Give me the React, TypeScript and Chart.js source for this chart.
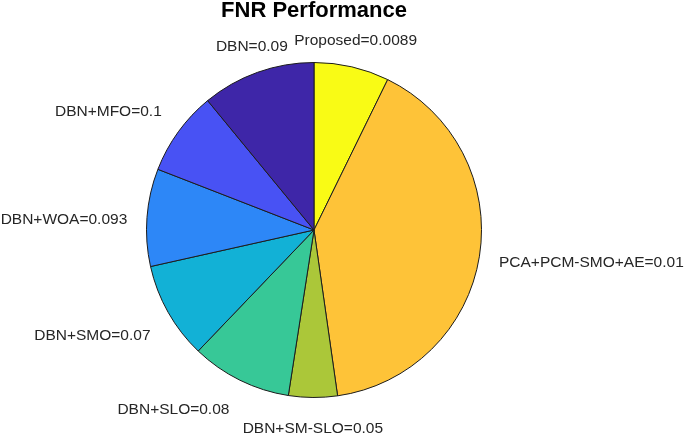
import React, { useEffect, useRef } from "react";
import { Chart, registerables } from "chart.js";

Chart.register(...registerables);

// Slices listed clockwise from 12 o'clock
const categories = [
  "Proposed",
  "PCA+PCM-SMO+AE",
  "DBN+SM-SLO",
  "DBN+SLO",
  "DBN+SMO",
  "DBN+WOA",
  "DBN+MFO",
  "DBN",
];
// Displayed FNR values (text of the labels)
const fnrValues = ["0.0089", "0.01", "0.05", "0.08", "0.07", "0.093", "0.1", "0.09"];
// Slice sizes (share of the circle, %)
const sliceShares = [7.25, 40.5, 4.7, 9.7, 9.35, 9.4, 8.15, 10.95];
const sliceColors = [
  "#f9fb15",
  "#fec338",
  "#abc739",
  "#37c897",
  "#12b1d6",
  "#2d87f7",
  "#4852f4",
  "#3e26a8",
];

const labelFont = '15.5px "Liberation Sans", Arial, Helvetica, sans-serif';

const outsideLabels = {
  id: "outsideLabels",
  afterDatasetsDraw(chart: any) {
    const meta = chart.getDatasetMeta(0);
    const ctx = chart.ctx;
    ctx.save();
    ctx.font = labelFont;
    ctx.fillStyle = "#262626";
    meta.data.forEach((arc: any, i: number) => {
      const p = arc.getProps(["x", "y", "startAngle", "endAngle", "outerRadius"], true);
      const a = (p.startAngle + p.endAngle) / 2;
      const r = p.outerRadius * 1.1;
      const c = Math.cos(a);
      const s = Math.sin(a);
      let px = p.x + c * r;
      let py = p.y + s * r;
      let align: CanvasTextAlign = "center";
      if (c > 0.4) {
        align = "left";
        px += 3;
      } else if (c < -0.4) {
        align = "right";
        px -= 3;
      }
      if (s < -0.3) py -= 6;
      else if (s > 0.3) py += 19;
      else py += 8;
      ctx.textAlign = align;
      ctx.textBaseline = "alphabetic";
      ctx.fillText(`${categories[i]}=${fnrValues[i]}`, px, py);
    });
    ctx.restore();
  },
};

export default function App() {
  const canvasRef = useRef<HTMLCanvasElement | null>(null);

  useEffect(() => {
    if (!canvasRef.current) return;
    const chart = new Chart(canvasRef.current, {
      type: "pie",
      data: {
        labels: categories,
        datasets: [
          {
            data: sliceShares,
            backgroundColor: sliceColors,
            borderColor: "#1c1c1c",
            borderWidth: 1,
          },
        ],
      },
      options: {
        responsive: true,
        maintainAspectRatio: false,
        animation: false,
        layout: { padding: { top: 0, left: 0, right: 57, bottom: 40 } },
        plugins: {
          legend: { display: false },
          tooltip: { enabled: false },
          title: {
            display: true,
            text: "FNR Performance",
            color: "#000",
            font: {
              family: '"Liberation Sans", Arial, Helvetica, sans-serif',
              size: 22,
              weight: "bold",
              lineHeight: 1,
            },
            padding: { top: 0, bottom: 40 },
          },
        },
      },
      plugins: [outsideLabels],
    });
    return () => chart.destroy();
  }, []);

  return (
    <div
      style={{
        position: "fixed",
        left: 0,
        top: 0,
        width: 685,
        height: 438,
        background: "#fff",
      }}
    >
      <canvas ref={canvasRef} />
    </div>
  );
}
